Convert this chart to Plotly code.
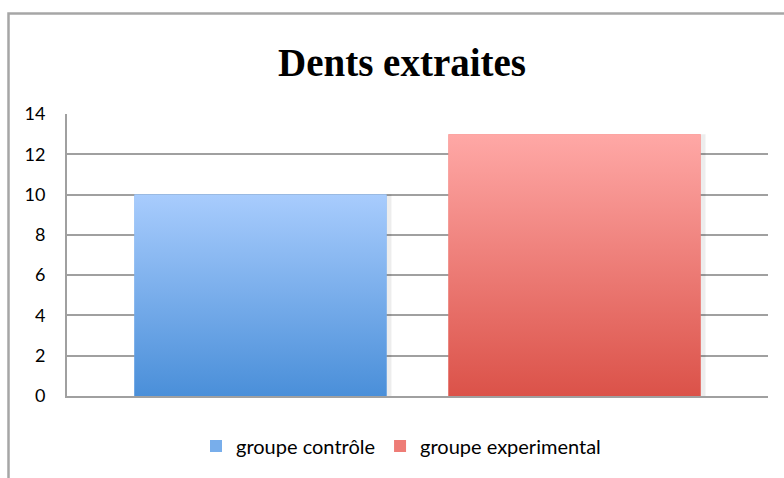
import plotly.graph_objects as go

# Data
series_names = ["groupe contrôle", "groupe experimental"]
values = [10, 13]
top_colors = ["#a8ccfd", "#ffa8a6"]
bottom_colors = ["#4a8fd9", "#db5249"]
mid_colors = ["#78aeeb", "#ee7c76"]
title_text = "Dents extraites"
y_ticks = [0, 2, 4, 6, 8, 10, 12, 14]

# layout geometry (one category, two series side by side)
group_frac = 0.896
slot = group_frac / len(values)
bar_frac = 0.803
bw = slot * bar_frac

fig = go.Figure()
for i, (name, v) in enumerate(zip(series_names, values)):
    c = -group_frac / 2 + slot * (i + 0.5)
    x0, x1 = c - bw / 2, c + bw / 2
    # legend / base bar
    fig.add_trace(go.Bar(x=[c], y=[v], width=[bw], name=name,
                         marker=dict(color=mid_colors[i], line=dict(width=0)),
                         hoverinfo="skip"))
    # soft shadow on right
    sw = 0.007
    fig.add_trace(go.Scatter(x=[x1, x1 + sw, x1 + sw, x1, x1], y=[0, 0, v, v, 0],
                             mode="lines", line=dict(width=0), fill="toself",
                             fillcolor="rgba(0,0,0,0.07)", showlegend=False, hoverinfo="skip"))
    # gradient fill
    fig.add_trace(go.Scatter(x=[x0, x1, x1, x0, x0], y=[0, 0, v, v, 0],
                             mode="lines", line=dict(width=0), fill="toself",
                             fillgradient=dict(type="vertical", start=0, stop=v,
                                               colorscale=[[0, bottom_colors[i]], [1, top_colors[i]]]),
                             showlegend=False, hoverinfo="skip"))

L, R, T, B = 67, 16, 114, 82
W, H = 784, 478
pw, ph = W - L - R, H - T - B

fig.update_layout(
    width=W, height=H,
    margin=dict(l=L, r=R, t=T, b=B),
    paper_bgcolor="white", plot_bgcolor="white",
    barmode="overlay",
    title=dict(text="<b>" + title_text + "</b>", x=(402 - L) / pw, xref="paper", xanchor="center",
               y=1 - 62 / H, yref="container", yanchor="middle",
               font=dict(family="Liberation Serif", size=39, color="black")),
    xaxis=dict(range=[-0.5, 0.5], showticklabels=False, showgrid=False, zeroline=False,
               showline=True, linecolor="#a0a0a0", linewidth=2, fixedrange=True, ticks=""),
    yaxis=dict(range=[0, 14], tickvals=y_ticks, showgrid=True, gridcolor="#a0a0a0", gridwidth=1.6,
               zeroline=False, showline=True, linecolor="#a0a0a0", linewidth=2,
               ticks="outside", ticklen=16, tickcolor="rgba(0,0,0,0)",
               tickfont=dict(family="Lato", size=18, color="black")),
    legend=dict(orientation="h", x=(401 - L) / pw, xanchor="center", y=-(446 - (H - B)) / ph,
                yanchor="middle", font=dict(family="Lato", size=20, color="black"),
                itemwidth=30, traceorder="normal"),
    showlegend=True,
    shapes=[dict(type="rect", xref="paper", yref="paper",
                 x0=(8.5 - L) / pw, x1=1.2, y0=-0.6, y1=1 + (T - 13.5) / ph,
                 line=dict(color="#a6a6a6", width=2.5), layer="below")],
)

fig.write_html("out.html", config={"displayModeBar": False},
               post_script="document.body.style.margin='0';document.body.style.padding='0';")
